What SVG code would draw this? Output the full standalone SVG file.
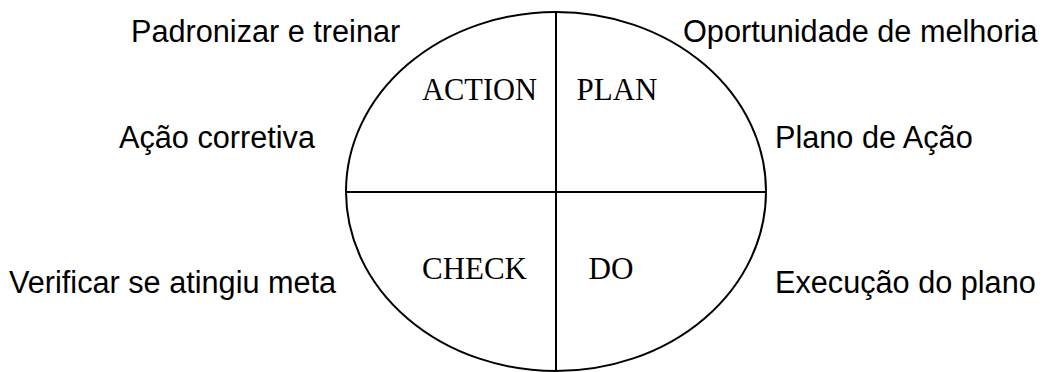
<svg xmlns="http://www.w3.org/2000/svg" width="1048" height="372" viewBox="0 0 1048 372">
  <style>
    .shape { fill: none; stroke: #000; stroke-width: 2; }
    .quad { font-family: "Liberation Serif", "Times New Roman", serif; font-size: 31.5px; fill: #000; }
    .note { font-family: "Liberation Sans", Arial, sans-serif; font-size: 30.67px; fill: #000; }
  </style>
  <rect width="1048" height="372" fill="#fff"/>

  <!-- PDCA cycle: ellipse split into four quadrants -->
  <g id="cycle">
    <ellipse class="shape" cx="556" cy="191.5" rx="210" ry="179.5"/>
  </g>
  <g id="dividers">
    <line class="shape" x1="556" y1="11" x2="556" y2="372"/>
    <line class="shape" x1="346" y1="192" x2="766" y2="192"/>
  </g>

  <!-- quadrant labels -->
  <g id="action"><text class="quad" x="422" y="99.5" textLength="115" lengthAdjust="spacingAndGlyphs">ACTION</text></g>
  <g id="plan"><text class="quad" x="576.5" y="99.5" textLength="81" lengthAdjust="spacingAndGlyphs">PLAN</text></g>
  <g id="check"><text class="quad" x="422" y="279" textLength="105" lengthAdjust="spacingAndGlyphs">CHECK</text></g>
  <g id="do"><text class="quad" x="588.5" y="279" textLength="45" lengthAdjust="spacingAndGlyphs">DO</text></g>

  <!-- descriptions around the cycle -->
  <g id="padronizar"><text class="note" x="131" y="42">Padronizar e treinar</text></g>
  <g id="acao-corretiva"><text class="note" x="119" y="148">Ação corretiva</text></g>
  <g id="verificar"><text class="note" x="9" y="293">Verificar se atingiu meta</text></g>
  <g id="oportunidade"><text class="note" x="683" y="42">Oportunidade de melhoria</text></g>
  <g id="plano-acao"><text class="note" x="775" y="148">Plano de Ação</text></g>
  <g id="execucao"><text class="note" x="775" y="293">Execução do plano</text></g>
</svg>
